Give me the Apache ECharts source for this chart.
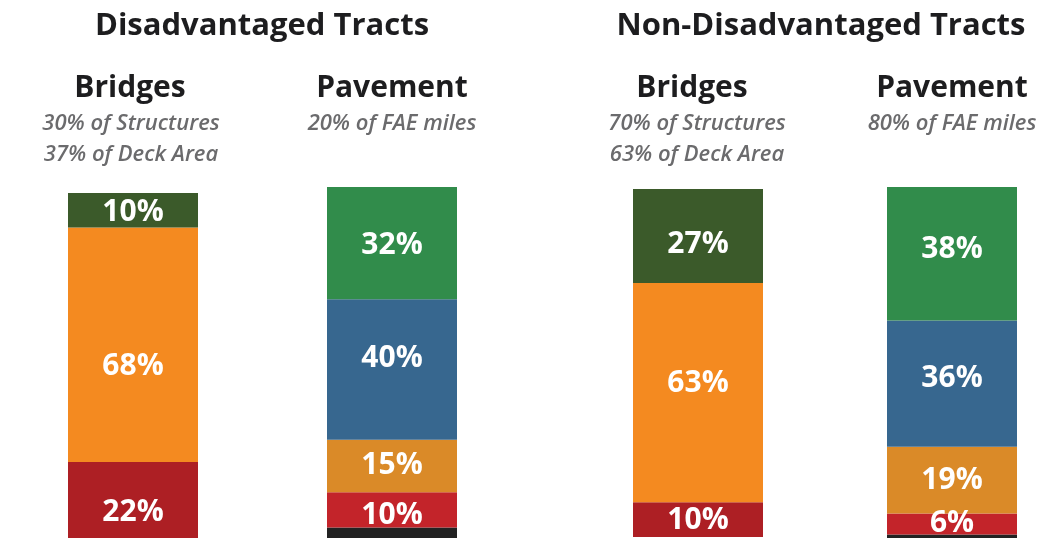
<!DOCTYPE html>
<html>
<head>
<meta charset="utf-8">
<script src="https://cdn.jsdelivr.net/npm/echarts@6/dist/echarts.min.js"></script>
<style>html,body{margin:0;padding:0;background:#fff;}#c{width:1061px;height:538px;}</style>
</head>
<body>
<div id="c"></div>
<script>
// ---- data ----
const groupTitles = ['Disadvantaged Tracts', 'Non-Disadvantaged Tracts'];
const panelTitles = ['Bridges', 'Pavement', 'Bridges', 'Pavement'];
const panelSubtitles = [
  ['30% of Structures', '37% of Deck Area'],
  ['20% of FAE miles'],
  ['70% of Structures', '63% of Deck Area'],
  ['80% of FAE miles']
];
const bridgeSegments = ['Poor', 'Fair', 'Good'];
const pavementSegments = ['Unrated', 'Poor', 'Mediocre', 'Fair', 'Good'];
const disBridges = [22, 68, 10];
const disPavement = [3, 10, 15, 40, 32];
const nonBridges = [10, 63, 27];
const nonPavement = [1, 6, 19, 36, 38];

// ---- styling ----
const bridgeColors = ['#ad1f24', '#f48a20', '#3b5a2a'];
const pavementColors = ['#222222', '#c3242a', '#da8a28', '#37678f', '#318c4b'];
const FONT = '"Open Sans", Lato, sans-serif';

const panels = [
  { segs: bridgeSegments, vals: disBridges, colors: bridgeColors, cx: 133, top: 193, height: 346, offs: [12, 22, 2] },
  { segs: pavementSegments, vals: disPavement, colors: pavementColors, cx: 392, top: 187, height: 352, offs: [0, 6, -1, -11, 2] },
  { segs: bridgeSegments, vals: nonBridges, colors: bridgeColors, cx: 698, top: 189, height: 348, offs: [1, -9, 8] },
  { segs: pavementSegments, vals: nonPavement, colors: pavementColors, cx: 952, top: 187, height: 352, offs: [0, -1, 0, -5, -4] }
];
const titleX = [[262, 130, 392], [821, 692, 952]];
const subX = [131, 392, 697, 952];

const grid = [], xAxis = [], yAxis = [], series = [];
panels.forEach((p, i) => {
  grid.push({ left: p.cx - 65, width: 130, top: p.top, height: p.height });
  xAxis.push({ gridIndex: i, type: 'category', data: [panelTitles[i]], show: false });
  yAxis.push({ gridIndex: i, type: 'value', min: 0, max: 100, show: false });
  p.segs.forEach((s, j) => {
    series.push({
      name: s, type: 'bar', xAxisIndex: i, yAxisIndex: i, stack: 'p' + i,
      barWidth: '100%', data: [p.vals[j]],
      itemStyle: { color: p.colors[j] },
      label: {
        show: s !== 'Unrated', position: 'inside', formatter: '{c}%', offset: [0, p.offs[j]],
        color: '#ffffff', fontSize: 30, fontWeight: 'bold', fontFamily: FONT
      }
    });
  });
});

const graphic = [];
groupTitles.forEach((t, g) => {
  graphic.push({ type: 'text', x: titleX[g][0], y: 26, style: {
    text: t, fill: '#1d1d1f', font: 'bold 31px ' + FONT, align: 'center', verticalAlign: 'middle' } });
});
panelTitles.forEach((t, i) => {
  const g = i < 2 ? 0 : 1;
  const x = titleX[g][1 + (i % 2)];
  graphic.push({ type: 'text', x: x, y: 88, style: {
    text: t, fill: '#1d1d1f', font: 'bold 30px ' + FONT, align: 'center', verticalAlign: 'middle' } });
  panelSubtitles[i].forEach((st, k) => {
    graphic.push({ type: 'text', x: subX[i], y: 124 + k * 31, style: {
      text: st, fill: '#6b6b6d', font: 'italic 600 22px ' + FONT, align: 'center', verticalAlign: 'middle' } });
  });
});

const chart = echarts.init(document.getElementById('c'));
chart.setOption({
  animation: false,
  backgroundColor: '#ffffff',
  grid, xAxis, yAxis, series, graphic
});
</script>
</body>
</html>
